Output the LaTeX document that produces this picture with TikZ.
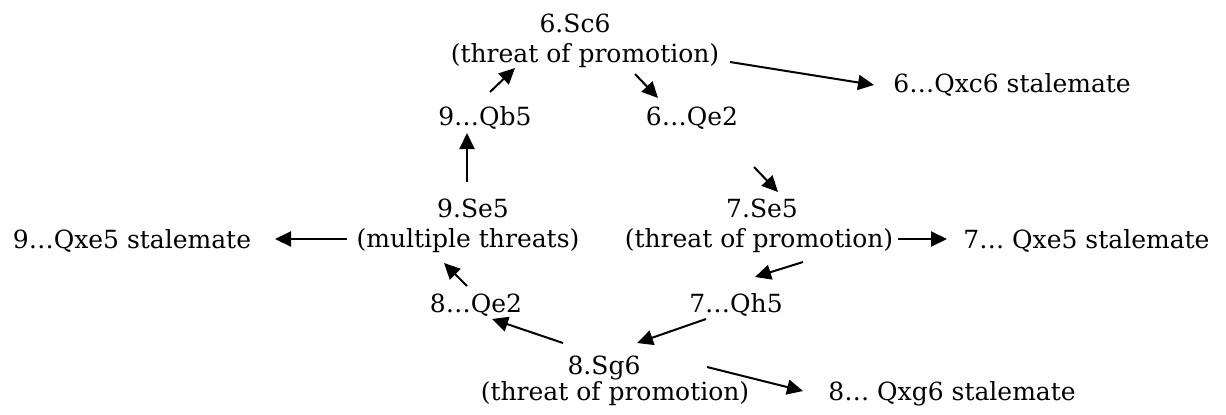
\documentclass[tikz,border=0pt]{standalone}
\usepackage{fontspec}
\setmainfont{DejaVu Serif}
\usetikzlibrary{arrows.meta}
\begin{document}
\begin{tikzpicture}[x=0.5pt,y=-0.5pt,
  lbl/.style={inner sep=0pt,anchor=base,font=\fontsize{12.5}{15}\selectfont},
  lbll/.style={lbl,anchor=base west},
  mv/.style={line width=1pt,-{Triangle[length=8pt,width=7.5pt]}}]
\useasboundingbox (0,0) rectangle (1226,414);
% nodes
\node[lbl] (sc6a) at (575,32) {6.Sc6};
\node[lbl] (sc6b) at (585,62) {(threat of promotion)};
\node[lbll] (qxc6) at (893,92) {6…Qxc6 stalemate};
\node[lbl] (qb5) at (485,125) {9…Qb5};
\node[lbl] (qe2a) at (692,125) {6…Qe2};
\node[lbl] (se5la) at (473,217) {9.Se5};
\node[lbl] (se5lb) at (468,247) {(multiple threats)};
\node[lbl] (se5ra) at (762,217) {7.Se5};
\node[lbl] (se5rb) at (759,247) {(threat of promotion)};
\node[lbl] (qxe5l) at (132,248) {9…Qxe5 stalemate};
\node[lbll] (qxe5r) at (963,248) {7… Qxe5 stalemate};
\node[lbl] (qe2b) at (476,312) {8…Qe2};
\node[lbl] (qh5) at (736,312) {7…Qh5};
\node[lbl] (sg6a) at (604,374) {8.Sg6};
\node[lbl] (sg6b) at (615,400) {(threat of promotion)};
\node[lbll] (qxg6) at (828,400) {8… Qxg6 stalemate};
% arrow end points
\coordinate (a1s) at (490,92);  \coordinate (a1e) at (515,68);
\coordinate (a2s) at (635,74);  \coordinate (a2e) at (658,98);
\coordinate (a3s) at (730,62);  \coordinate (a3e) at (874,85);
\coordinate (a4s) at (467,182); \coordinate (a4e) at (467,133);
\coordinate (a5s) at (754,167); \coordinate (a5e) at (778,192);
\coordinate (a6s) at (803,262); \coordinate (a6e) at (755,277);
\coordinate (a7s) at (467,286); \coordinate (a7e) at (444,263);
\coordinate (a8s) at (706,319); \coordinate (a8e) at (637,343);
\coordinate (a9s) at (563,343); \coordinate (a9e) at (492,319);
\coordinate (a10s) at (707,367); \coordinate (a10e) at (803,391);
\coordinate (a11s) at (347,239); \coordinate (a11e) at (275,239);
\coordinate (a12s) at (898,239); \coordinate (a12e) at (947,239);
% arrows
\draw[mv] (a1s) -- (a1e);
\draw[mv] (a2s) -- (a2e);
\draw[mv] (a3s) -- (a3e);
\draw[mv] (a4s) -- (a4e);
\draw[mv] (a5s) -- (a5e);
\draw[mv] (a6s) -- (a6e);
\draw[mv] (a7s) -- (a7e);
\draw[mv] (a8s) -- (a8e);
\draw[mv] (a9s) -- (a9e);
\draw[mv] (a10s) -- (a10e);
\draw[mv] (a11s) -- (a11e);
\draw[mv] (a12s) -- (a12e);
\end{tikzpicture}
\end{document}
